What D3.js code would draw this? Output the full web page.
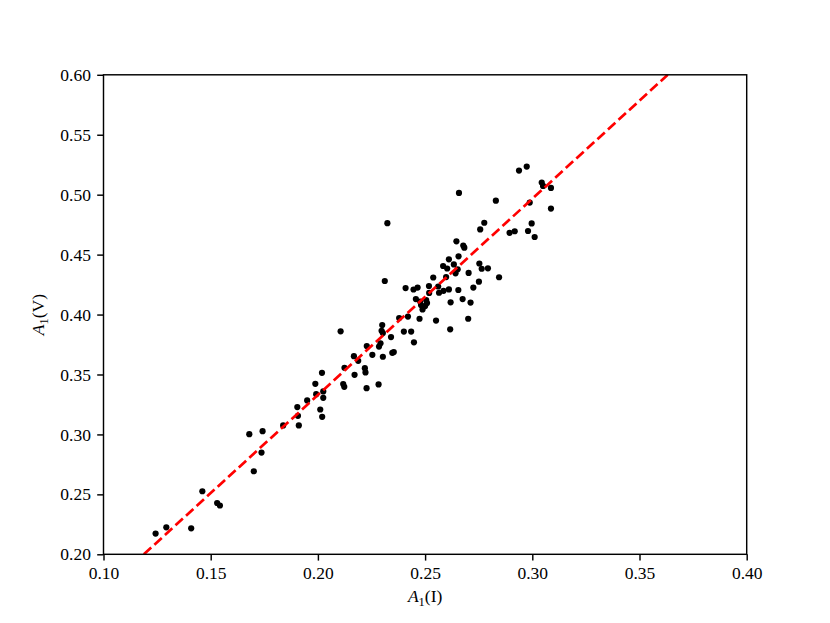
<!DOCTYPE html>
<html>
<head>
<meta charset="utf-8">
<script src="https://cdn.jsdelivr.net/npm/d3@7"></script>
<style>
  html, body { margin: 0; padding: 0; background: #fff; }
  svg { display: block; }
  text { font-family: "Liberation Serif", "Times New Roman", serif; }
</style>
</head>
<body>
<svg id="chart" width="830" height="623"></svg>
<script>
// ---- data ----
const a1I = [
  0.1243, 0.1293, 0.1409, 0.1461, 0.1530, 0.1543, 0.1680, 0.1742, 0.1737, 0.1701,
  0.1838, 0.1904, 0.1907, 0.1911, 0.1950, 0.1988, 0.1992, 0.2025, 0.2025, 0.2011,
  0.2020, 0.2019, 0.2106, 0.2124, 0.2118, 0.2123, 0.2168, 0.2188, 0.2171, 0.2219,
  0.2222, 0.2228, 0.2254, 0.2227, 0.2283, 0.2285, 0.2292, 0.2300, 0.2297, 0.2303,
  0.2303, 0.2341, 0.2347, 0.2354, 0.2379, 0.2420, 0.2401, 0.2435, 0.2448, 0.2474,
  0.2312, 0.2324, 0.2409, 0.2446, 0.2465, 0.2457, 0.2477, 0.2481, 0.2505, 0.2500,
  0.2488, 0.2509, 0.2519, 0.2518, 0.2538, 0.2551, 0.2561, 0.2565, 0.2586, 0.2584,
  0.2603, 0.2598, 0.2611, 0.2611, 0.2619, 0.2617, 0.2634, 0.2652, 0.2642, 0.2655,
  0.2656, 0.2646, 0.2678, 0.2683, 0.2658, 0.2703, 0.2675, 0.2712, 0.2701, 0.2725,
  0.2751, 0.2753, 0.2764, 0.2793, 0.2757, 0.2776, 0.2830, 0.2845, 0.2894, 0.2918,
  0.2938, 0.2974, 0.2980, 0.2988, 0.2997, 0.3011, 0.3044, 0.3050, 0.3087, 0.3087
];
const a1V = [
  0.2173, 0.2225, 0.2217, 0.2526, 0.2428, 0.2407, 0.3002, 0.3027, 0.2849, 0.2693,
  0.3075, 0.3228, 0.3155, 0.3075, 0.3284, 0.3422, 0.3336, 0.3359, 0.3305, 0.3208,
  0.3147, 0.3514, 0.3860, 0.3556, 0.3420, 0.3397, 0.3653, 0.3614, 0.3497, 0.3553,
  0.3517, 0.3737, 0.3664, 0.3386, 0.3417, 0.3733, 0.3760, 0.3912, 0.3865, 0.3846,
  0.3648, 0.3812, 0.3681, 0.3687, 0.3971, 0.3983, 0.3858, 0.3858, 0.3768, 0.3965,
  0.4280, 0.4762, 0.4221, 0.4209, 0.4225, 0.4129, 0.4109, 0.4079, 0.4121, 0.4071,
  0.4042, 0.4096, 0.4180, 0.4238, 0.4309, 0.3950, 0.4234, 0.4182, 0.4198, 0.4405,
  0.4384, 0.4313, 0.4461, 0.4210, 0.4102, 0.3877, 0.4418, 0.4377, 0.4344, 0.4205,
  0.4486, 0.4611, 0.4575, 0.4558, 0.5015, 0.4347, 0.4129, 0.4100, 0.3965, 0.4225,
  0.4274, 0.4426, 0.4382, 0.4386, 0.4710, 0.4766, 0.4950, 0.4311, 0.4682, 0.4695,
  0.5201, 0.5234, 0.4697, 0.4934, 0.4760, 0.4647, 0.5101, 0.5073, 0.5056, 0.4884
];
const fitSlope = 1.637;
const fitIntercept = 0.0055;
const xTickValues = [0.10, 0.15, 0.20, 0.25, 0.30, 0.35, 0.40];
const yTickValues = [0.20, 0.25, 0.30, 0.35, 0.40, 0.45, 0.50, 0.55, 0.60];
const xDomain = [0.10, 0.40];
const yDomain = [0.20, 0.60];

// ---- layout ----
const W = 830, H = 623;
const plot = { left: 103.5, right: 746.7, top: 74.8, bottom: 554.3 };
const svg = d3.select("#chart");

const x = d3.scaleLinear().domain(xDomain).range([plot.left, plot.right]);
const y = d3.scaleLinear().domain(yDomain).range([plot.bottom, plot.top]);

svg.append("rect").attr("width", W).attr("height", H).attr("fill", "#fff");

svg.append("clipPath").attr("id", "clip")
  .append("rect")
  .attr("x", plot.left).attr("y", plot.top)
  .attr("width", plot.right - plot.left).attr("height", plot.bottom - plot.top);

const points = a1I.map((v, i) => ({ x: v, y: a1V[i] }));

// scatter points
svg.append("g").attr("clip-path", "url(#clip)")
  .selectAll("circle").data(points).enter().append("circle")
  .attr("cx", d => x(d.x)).attr("cy", d => y(d.y))
  .attr("r", 3.1).attr("fill", "#000");

// fit line
const fx0 = (yDomain[0] - fitIntercept) / fitSlope;
const fx1 = (yDomain[1] - fitIntercept) / fitSlope;
const fitLine = d3.line().x(d => x(d[0])).y(d => y(d[1]));
svg.append("path").attr("clip-path", "url(#clip)")
  .attr("d", fitLine([[fx0, fitSlope * fx0 + fitIntercept], [fx1, fitSlope * fx1 + fitIntercept]]))
  .attr("fill", "none").attr("stroke", "#ff0000")
  .attr("stroke-width", 2.7).attr("stroke-dasharray", "10,4.3");

// axes
const tickLen = 6.3, tickPad = 6.3, lw = 1.44;
const fmt = d3.format(".2f");
const xAxis = svg.append("g").attr("transform", `translate(0,${plot.bottom})`)
  .call(d3.axisBottom(x).tickValues(xTickValues).tickFormat(fmt)
    .tickSize(tickLen).tickPadding(tickPad).tickSizeOuter(0));
const yAxis = svg.append("g").attr("transform", `translate(${plot.left},0)`)
  .call(d3.axisLeft(y).tickValues(yTickValues).tickFormat(fmt)
    .tickSize(tickLen).tickPadding(tickPad).tickSizeOuter(0));
[xAxis, yAxis].forEach(g => {
  g.select(".domain").remove();
  g.selectAll(".tick line").attr("stroke", "#000").attr("stroke-width", lw);
  g.selectAll(".tick text").attr("fill", "#000")
    .style("font-family", '"Liberation Serif", "Times New Roman", serif')
    .style("font-size", "17.5px");
});

// frame
svg.append("rect")
  .attr("x", plot.left).attr("y", plot.top)
  .attr("width", plot.right - plot.left).attr("height", plot.bottom - plot.top)
  .attr("fill", "none").attr("stroke", "#000").attr("stroke-width", lw);

// axis labels: A_1(I) and A_1(V)
function mathLabel(sel, sub, rest) {
  sel.append("tspan").attr("font-style", "italic").text("A");
  sel.append("tspan").attr("font-size", "12.5px").attr("dy", 3.5).text(sub);
  sel.append("tspan").attr("dy", -3.5).text(rest);
}
const xl = svg.append("text")
  .attr("x", (plot.left + plot.right) / 2).attr("y", 602)
  .attr("text-anchor", "middle").attr("font-size", "17.5px").attr("fill", "#000");
mathLabel(xl, "1", "(I)");

const yl = svg.append("text")
  .attr("transform", `translate(44,${(plot.top + plot.bottom) / 2}) rotate(-90)`)
  .attr("text-anchor", "middle").attr("font-size", "17.5px").attr("fill", "#000");
mathLabel(yl, "1", "(V)");
</script>
</body>
</html>
